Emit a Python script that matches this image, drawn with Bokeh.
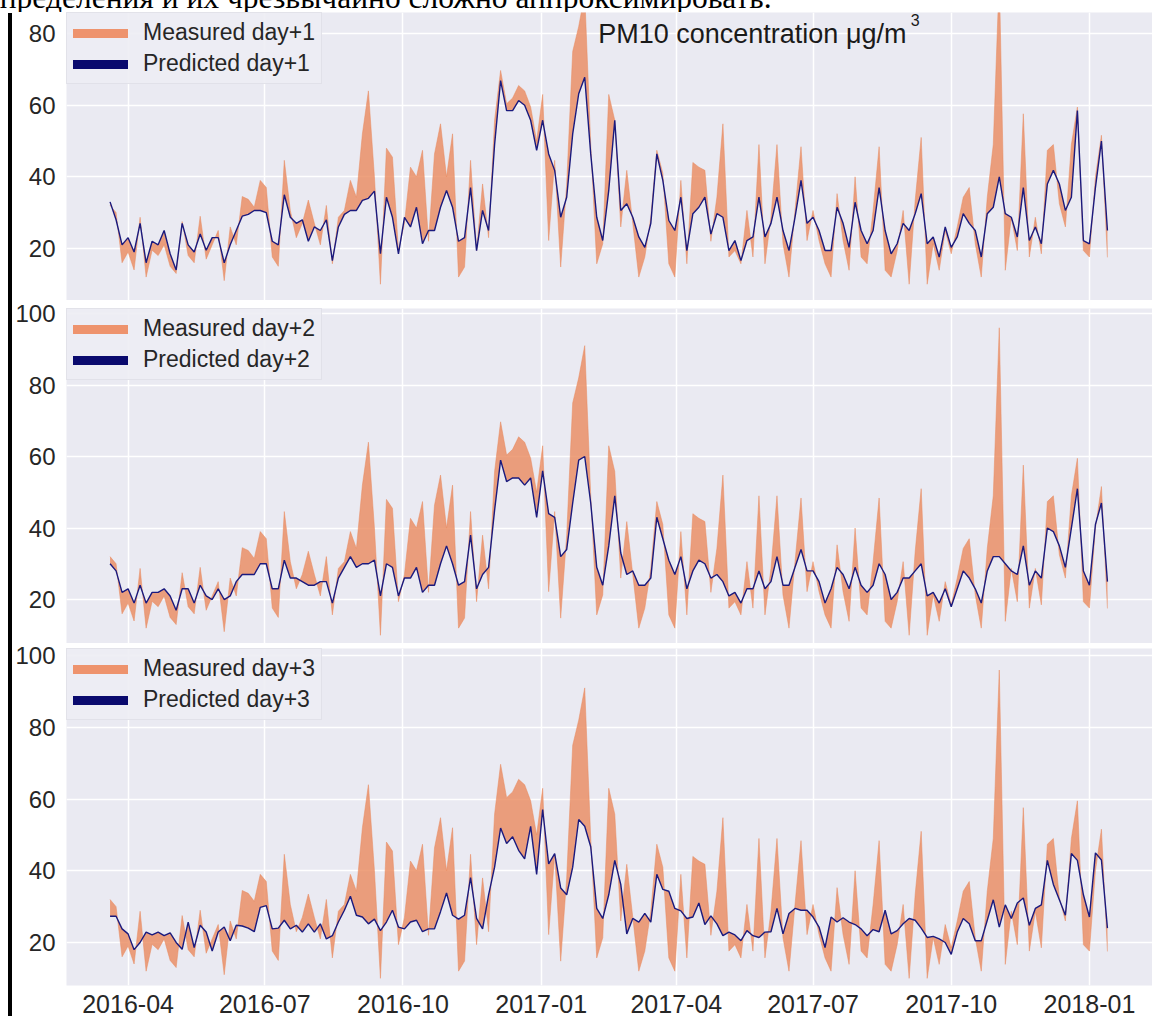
import pandas as pd
from bokeh.plotting import figure
from bokeh.models import (Range1d, Legend, LegendItem, Label, MonthsTicker,
                          DatetimeTickFormatter, SingleIntervalTicker, Div, ColumnDataSource)
from bokeh.layouts import column, row
from bokeh.embed import file_html
from bokeh.resources import INLINE

# ---------------- data (one value every 4 days) ----------------
start_date = "2016-03-20"
step = "4D"

measured = [
    32, 30, 16, 19, 14, 28.7, 12, 19.5, 18, 21, 15, 13, 27.5, 18, 16, 29, 17, 21, 25, 11,
    26, 21, 34.5, 33.7, 31.5, 39, 37, 17.6, 15, 44.6, 30.6, 23, 27, 33.5, 27, 21, 32, 15.7, 28.7, 30.6,
    39, 34.3, 52, 64, 40, 10, 48, 45.5, 19.4, 27, 42.7, 40, 47.4, 22, 46.4, 54.8, 40, 52, 12, 14.8,
    44.6, 19.4, 38, 23, 55.8, 69.7, 60.4, 62, 65.5, 64, 59.5, 50, 63, 22.2, 44.6, 14.8, 38, 75, 82, 91, 49,
    15.7, 21.3, 63, 55.8, 26, 41.8, 27, 12, 17.6, 28.7, 47.4, 41, 15.7, 12, 39, 15.7, 44, 42.7, 41.8, 22,
    34.3, 54.8, 17.6, 19.4, 15.7, 30.6, 17.6, 49, 15.7, 28.7, 49, 21.3, 12, 30.6, 48.4, 22.2, 30.6, 22.2, 15.7, 12,
    35.3,
    22.2, 13.9, 40, 17.6, 15.7, 30.6, 48.4, 13.9, 12, 19.4, 30.6, 10, 33.4, 51, 10, 21.3, 13.9, 25, 18.5, 26,
    34.3, 37, 21.3, 12, 34.3, 49, 96, 13.9, 28.7, 19.4, 57.6, 17.6, 28.7, 18.5, 47.4, 49, 32.5, 26, 49, 59.5,
    19.4, 17.6,
    40, 51.6, 17.5,
]

predicted_1 = [
    33, 28, 21, 23, 19, 27, 16, 22, 21, 25, 18.5, 14, 27, 21, 19, 24, 19.5, 23, 23, 16,
    21, 25, 29, 29.5, 30.6, 30.6, 30, 22, 21, 35, 28.7, 27, 28, 22, 26, 25, 28, 16.6, 26, 29.5,
    30.6, 30.6, 33.4, 34, 36, 18.5, 34.3, 28.7, 18.5, 28.7, 26, 31.5, 21.3, 25, 25, 31.5, 36.2, 31.5, 22, 23,
    37, 19.4, 30.6, 25, 49, 66.9, 58.5, 58.5, 61.3, 60, 55.8, 47.4, 55.8, 46.4, 41.8, 28.7, 34.3, 52, 63.2, 67.8, 46.4,
    28.7, 22.2, 36.2, 55.8, 30.6, 32.5, 28.7, 23.2, 20.3, 27, 46.4, 39, 27.8, 25, 34.3, 19.4, 29.7, 31.5, 34.3, 24,
    29.7, 28.7, 19.4, 22.2, 16.6, 22.2, 23.2, 34.3, 23.2, 27, 34.3, 25, 19.4, 28.7, 39, 27, 28.7, 25, 19.4, 19.4,
    31.5,
    27, 20.3, 32.9, 25, 21.3, 25, 37, 25, 18.5, 21.3, 27, 25, 29.7, 35.3, 21.3, 23.2, 17.6, 26, 20.3, 23.2,
    29.7, 27, 25, 17.6, 29.7, 31.5, 40, 29.7, 28.7, 23.2, 37, 22.2, 26, 21.3, 38, 41.8, 38, 30.6, 34.3, 58.5,
    22.2, 21.3,
    37, 50, 25,
]

predicted_2 = [
    30, 28, 22, 23, 19, 24, 19, 22, 22, 23, 21, 17, 23, 23, 19, 24, 21, 20, 23, 20,
    21, 25, 27, 27, 27, 30, 30, 23, 23, 31, 26, 26, 25, 24, 24, 25, 25, 19, 26, 29,
    32, 29, 30, 30, 31, 21, 30, 29, 21, 26, 26, 29, 22, 24, 24, 30, 35, 30, 24, 25,
    38, 23, 27, 29, 45, 59, 53, 54, 54, 52, 54, 43, 56, 44, 43, 32, 34, 47, 59, 60, 47, 29,
    24, 35, 49, 33, 27, 28, 24, 24, 26, 43, 37, 31, 27, 32, 23, 28, 31, 30, 26, 27,
    25, 21, 22, 19, 23, 23, 28, 23, 25, 32, 24, 24, 29, 34, 28, 28, 25, 19, 23, 29,
    27, 23, 29, 24, 22, 24, 30, 27, 20, 22, 26, 26, 28, 30, 21, 22, 19, 23, 18, 23,
    28, 26, 23, 19, 28, 32, 32, 30, 28, 27, 35, 24, 28, 26, 40, 39, 35, 29, 40, 51, 28, 24,
    41, 47, 25,
]

predicted_3 = [
    27.3, 27.3, 23.8, 22.4, 18, 20, 22.9, 22.1, 22.9, 21.9, 22.7, 20, 18.1, 25.7, 18.6, 24.8, 22.9, 17.6, 22.9, 24.3,
    20.5, 24.8, 24.6, 24, 23, 29.8, 30.3, 23.8, 24, 26.2, 23.8, 24.8, 22.9, 25.2, 22.9, 25.2, 21, 21.9, 25.7, 29,
    32.9, 27.6, 27.1, 25.2, 26.5, 23.3, 25.7, 29, 24.3, 23.8, 25.7, 26.2, 23, 23.8, 23.8, 28.6, 33.8, 27.6, 26.5, 27.6,
    38.1, 26.7, 23.8, 33.3, 41, 51.9, 47.6, 49.5, 45.7, 43.3, 52.4, 39, 57.1, 41.9, 44.8, 35.2, 33.3, 41, 54.3, 52.4,
    46.7, 29.5,
    26.7, 33.3, 42.9, 36.2, 22.4, 26.7, 25.7, 28.1, 25.7, 39, 34.8, 34.3, 29.5, 28.8, 26.7, 27.1, 31, 25, 27.4, 25.2,
    21.9, 22.9, 22.1, 20.5, 23.3, 21.9, 21.4, 22.9, 23, 29.5, 22.4, 28.1, 29.5, 29, 29, 27.1, 24.3, 18.6, 27.1, 25.7,
    26.9, 25.7, 25, 23.8, 21.9, 23.6, 23, 29, 22.4, 23.3, 25.2, 26.7, 26.2, 24, 21.4, 21.7, 21, 20, 16.7, 22.9,
    26.7, 25.2, 20.5, 20.5, 26.2, 31.9, 24.3, 30.5, 26.7, 31, 32.4, 24.8, 29.5, 30.5, 42.9, 36.2, 31.9, 27.6, 44.8, 42.9,
    33.3, 27.1,
    45, 43, 24,
]

horizons = ["day+1", "day+2", "day+3"]
y_ranges = [(5.45, 85.9), (7.7, 101.4), (8.0, 102.0)]
y_tick_step = 20
quarter_months = [0, 3, 6, 9]          # Jan, Apr, Jul, Oct (BokehJS months are 0-based)
title_text = "PM10 concentration μg/m"
title_sup = "3"
russian_text = "определения и их чрезвычайно сложно аппроксимировать."

# ---------------- styling ----------------
BG = "#EAEAF2"
FILL = "#EA8A5E"
LEG_OR = "#EE936D"
NAVY = "#1A1A7E"
LEG_NAVY = "#0A0A6E"
TXT = "#262626"
FONT = "Liberation Sans"

dates = pd.date_range(start_date, periods=len(measured), freq=step)
x_range = Range1d(pd.Timestamp("2016-02-20"), pd.Timestamp("2018-02-12"))


def make_panel(i, pred, height, top, bottom, show_x):
    p = figure(width=1140, height=height, x_axis_type="datetime", x_range=x_range,
               y_range=Range1d(*y_ranges[i]), output_backend="svg", toolbar_location=None,
               min_border_left=53, min_border_right=0, min_border_top=top,
               min_border_bottom=bottom)
    p.background_fill_color = BG
    p.border_fill_color = "white"
    p.outline_line_color = None

    src = ColumnDataSource(dict(x=dates, m=measured, p=pred))
    p.varea(x="x", y1="m", y2="p", source=src, fill_color=FILL, fill_alpha=0.8)
    p.line("x", "m", source=src, line_color=FILL, line_width=1, line_alpha=0.5)
    p.line("x", "p", source=src, line_color=NAVY, line_width=1.4)

    p.yaxis.ticker = SingleIntervalTicker(interval=y_tick_step)
    p.yaxis.axis_line_color = None
    p.yaxis.major_tick_line_color = None
    p.yaxis.minor_tick_line_color = None
    p.yaxis.major_label_text_font = FONT
    p.yaxis.major_label_text_font_size = "24px"
    p.yaxis.major_label_text_color = TXT
    p.yaxis.major_label_standoff = 5

    p.xaxis.ticker = MonthsTicker(months=quarter_months)
    p.xaxis.formatter = DatetimeTickFormatter(months="%Y-%m", years="%Y-%m", days="%Y-%m")
    p.xgrid.ticker = MonthsTicker(months=quarter_months)
    p.xaxis.axis_line_color = None
    p.xaxis.major_tick_line_color = None
    p.xaxis.minor_tick_line_color = None
    p.xaxis.major_label_text_font = FONT
    p.xaxis.major_label_text_font_size = "25px"
    p.xaxis.major_label_text_color = TXT
    p.xaxis.major_label_standoff = 3
    if not show_x:
        p.xaxis.visible = False

    p.xgrid.grid_line_color = "white"
    p.ygrid.grid_line_color = "white"
    p.xgrid.grid_line_width = 1.5
    p.ygrid.grid_line_width = 1.5

    # legend samples: thick lines kept outside the visible y range
    lx = [dates[0], dates[1]]
    ly = [-100, -100]
    rm = p.line(x=lx, y=ly, line_color=LEG_OR, line_width=9, line_cap="round")
    rp = p.line(x=lx, y=ly, line_color=LEG_NAVY, line_width=9, line_cap="round")
    leg = Legend(items=[LegendItem(label="Measured " + horizons[i], renderers=[rm]),
                        LegendItem(label="Predicted " + horizons[i], renderers=[rp])],
                 location="top_left", margin=0, padding=6, spacing=4,
                 glyph_width=55, glyph_height=26, label_height=26, label_standoff=15,
                 label_text_font=FONT, label_text_font_size="23px", label_text_color=TXT,
                 background_fill_color="#EDEDF4", background_fill_alpha=0.9,
                 border_line_color="#D6D6DE", border_line_width=1)
    p.add_layout(leg)
    return p


p1 = make_panel(0, predicted_1, 288, 0, 0, False)
p2 = make_panel(1, predicted_2, 343, 8, 0, False)
p3 = make_panel(2, predicted_3, 373, 5, 31, True)

ms = lambda s: pd.Timestamp(s).value / 1e6
p1.add_layout(Label(x=ms("2017-02-08"), y=80, text=title_text, text_font=FONT,
                    text_font_size="27px", text_baseline="middle", text_color="#1a1a1a"))
p1.add_layout(Label(x=ms("2017-09-04"), y=83.7, text=title_sup, text_font=FONT,
                    text_font_size="16px", text_baseline="middle", text_color="#1a1a1a"))

top_html = ('<div style="width:1152px;height:12px;overflow:hidden;position:relative;">'
            '<div style="position:absolute;left:-16px;top:-18px;white-space:nowrap;'
            "font-family:'Liberation Serif';font-size:31.5px;line-height:31.5px;color:#000;\">"
            + russian_text + '</div></div>')
top_text = Div(text=top_html, width=1152, height=12, margin=0)

bar = Div(text='<div style="width:4px;height:1003px;background:#000"></div>',
          width=4, height=1003, margin=(1, 0, 0, 8))
layout = column(top_text, row(bar, column(p1, p2, p3, spacing=0), spacing=0), spacing=0)

open("out.html", "w").write(file_html(layout, INLINE))
